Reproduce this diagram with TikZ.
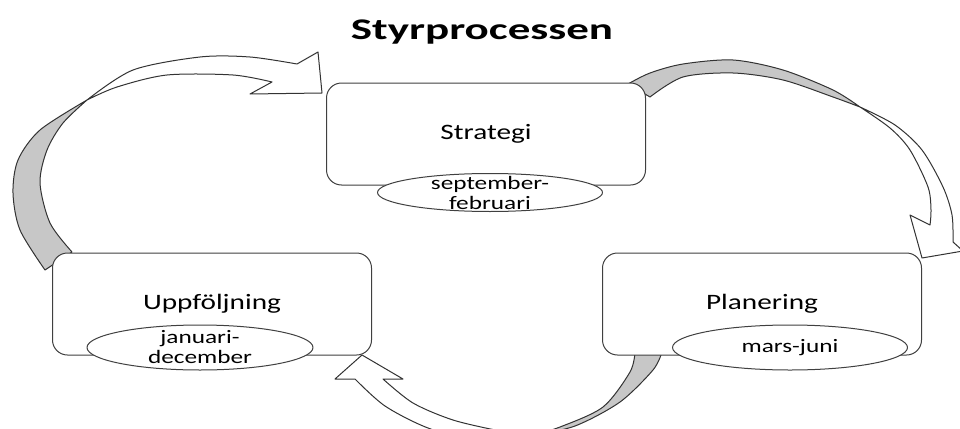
\documentclass[tikz,border=0pt]{standalone}
\usepackage{fontspec}
\setmainfont{Carlito}
\newfontfamily\boxfont[FakeStretch=1.33]{Carlito}
\newfontfamily\titlefont[FakeStretch=1.5]{Carlito}
\usetikzlibrary{calc,
shapes.geometric,
positioning}

\begin{document}
\begin{tikzpicture} [x=1pt, y=-1pt,
    line join=round,
    stage node/.style={rectangle, rounded corners=15pt, fill=white, draw=black!75, line width=1pt,
        minimum width=319pt, minimum height=102pt, font=\boxfont\fontsize{22}{26}\selectfont},
    period node/.style={ellipse, fill=white, draw=black!75, line width=1pt, inner xsep=0pt, inner ysep=-8pt,
        align=center, font=\boxfont\fontsize{19}{20}\selectfont},
    arrow back/.style={fill=black!22, draw=black!80, line width=1pt},
    arrow front/.style={fill=white, draw=black!80, line width=1pt}]

  \clip (0, 0) rectangle (960, 428);

  \node [font=\titlefont\bfseries\fontsize{30}{36}\selectfont] (title) at (482, 32) {Styrprocessen};

  % Uppfoljning -> Strategi
  \filldraw [arrow back] (87,100) -- plot [smooth] coordinates {(87,100) (40,130) (18,160) (13,193) (20,230) (45,270)}
  -- (72,252) -- plot [smooth] coordinates {(72,252) (50,223) (40,183) (47,150) (63,123) (87,100)} -- cycle;
  \filldraw [arrow front] (87,100) -- plot [smooth] coordinates {(87,100) (133,70) (200,57) (250,57) (297,64)}
  -- (318,52) -- (322,93) -- (250,94) -- (272,82)
  -- plot [smooth] coordinates {(272,82) (233,75) (167,75) (117,87) (87,100)} -- cycle;

  % Strategi -> Planering
  \filldraw [arrow back] (628,84) -- plot [smooth] coordinates {(628,84) (650,73) (683,64) (733,60) (783,70) (833,90) (860,107)}
  -- plot [smooth] coordinates {(860,107) (833,97) (783,80) (733,73) (683,77) (650,97)} -- cycle;
  \filldraw [arrow front] (860,107) -- plot [smooth] coordinates {(860,107) (895,125) (922,150) (943,187) (952,215) (953,242)}
  -- (963,251) -- (922,258) -- (910,215) -- (930,225)
  -- plot [smooth] coordinates {(930,225) (931,210) (928,187) (910,150) (890,128) (860,107)} -- cycle;

  % Planering -> Uppfoljning
  \filldraw [arrow back] (635,352) -- plot [smooth] coordinates {(635,352) (630,372) (603,407) (560,427) (530,436)}
  -- plot [smooth] coordinates {(530,436) (575,426) (620,402) (653,370) (662,352)} -- cycle;
  \filldraw [arrow front] (530,436) -- plot [smooth] coordinates {(530,436) (500,431) (453,420) (413,403) (383,379)}
  -- (403,379) -- (362,355) -- (335,379) -- (355,379)
  -- plot [smooth] coordinates {(355,379) (385,406) (428,428) (480,442) (530,436)} -- cycle;

  \node [stage node] (strat) at (486, 134) {Strategi};
  \node [stage node] (plan) at (762, 304) {Planering};
  \node [stage node, left = 230pt of plan] (uppf) {Uppföljning};

  \node [period node, minimum width=225pt, minimum height=38pt] (sept) at ($(strat.south) + (4, 7)$) {september-\\februari};
  \node [period node, minimum width=226pt, minimum height=45pt] (jan) at ($(uppf.south) + (-12, -8)$) {januari-\\december};
  \node [period node, minimum width=235pt, minimum height=45pt] (mars) at ($(plan.south) + (28, -8)$) {mars-juni};

\end{tikzpicture}
\end{document}
